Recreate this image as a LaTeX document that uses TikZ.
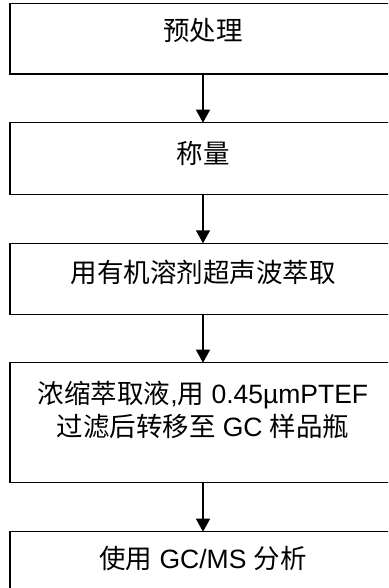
\documentclass[tikz,border=0pt]{standalone}
\usepackage{fontspec}
\setmainfont{Liberation Sans}
\newfontfamily\cjk{Noto Sans CJK SC}
\usetikzlibrary{arrows.meta}
\begin{document}
\begin{tikzpicture}[x=1pt,y=-1pt,
  stepbox/.style={draw, rectangle, line width=1.4pt, minimum width=386pt, inner sep=0pt, outer sep=0pt},
  lbl/.style={font=\fontsize{26.5}{33}\selectfont, anchor=center, inner sep=0pt, align=center},
  flow/.style={line width=1.4pt, -{Triangle[width=14pt,length=13pt]}}]
\useasboundingbox (0,0) rectangle (388,588);
\clip (0,0) rectangle (388,588);
\node[stepbox, minimum height=70.7pt] (b1) at (203,38.65) {};
\node[stepbox, minimum height=71.6pt] (b2) at (203,158.5) {};
\node[stepbox, minimum height=71pt] (b3) at (203,278.8) {};
\node[stepbox, minimum height=120pt] (b4) at (203,422.7) {};
\node[stepbox, minimum height=71.3pt] (b5) at (203,567.35) {};
\node[lbl] (t1) at (203,30) {\cjk 预处理};
\node[lbl] (t2) at (203,153) {\cjk 称量};
\node[lbl] (t3) at (203,272.5) {\cjk 用有机溶剂超声波萃取};
\node[lbl] (t4) at (203,409.5) {{\cjk 浓缩萃取液}{,}{\cjk 用} 0.45µmPTEF\\{\cjk 过滤后转移至} GC {\cjk 样品瓶}};
\node[lbl] (t5) at (203,558.5) {{\cjk 使用} GC/MS {\cjk 分析}};
\draw[flow] (b1.south) -- (b2.north);
\draw[flow] (b2.south) -- (b3.north);
\draw[flow] (b3.south) -- (b4.north);
\draw[flow] (b4.south) -- (b5.north);
\end{tikzpicture}
\end{document}
